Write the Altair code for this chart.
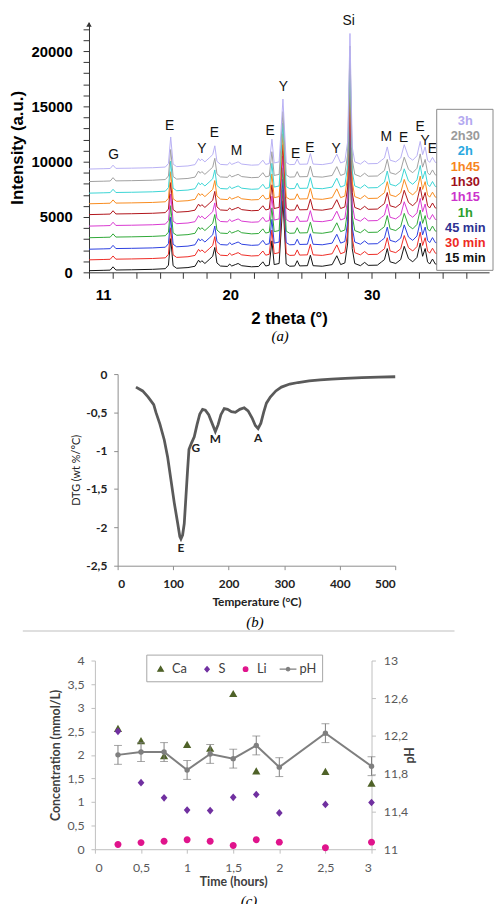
import altair as alt
import pandas as pd

# ---------------- (a) XRD patterns ----------------
xrd_series = ["15 min", "30 min", "45 min", "1h", "1h15", "1h30", "1h45", "2h", "2h30", "3h"]
xrd_baseline = [150, 1130, 2090, 3130, 4180, 5220, 6200, 7160, 8210, 9340]
xrd_line_colors = ["#111111", "#ee2a24", "#2b3ee0", "#2ea836", "#d838d0",
                   "#b01218", "#f88a1c", "#3ad4d4", "#a0a0a0", "#b8b0f4"]
xrd_label_colors = ["#111111", "#ee2a24", "#2e3192", "#2ca02c", "#cc33cc",
                    "#a0101c", "#f7861e", "#29a8e0", "#9a9a9a", "#b3a9f0"]
xrd_two_theta = [10.0, 11.0, 11.5, 11.7, 11.9, 13.0, 14.5, 15.4, 15.62, 15.78, 15.95, 16.2,
                 17.0, 17.5, 17.75, 17.87, 17.98, 18.2, 18.5, 18.75, 18.9, 19.05, 19.3,
                 19.8, 19.95, 20.1, 20.35, 20.55, 20.8, 21.5, 22.0, 22.3, 22.5, 22.75, 22.94,
                 23.1, 23.45, 23.72, 23.95, 24.2, 24.55, 24.73, 24.9, 25.45, 25.66, 25.85,
                 26.5, 27.2, 27.53, 27.8, 28.1, 28.3, 28.46, 28.62, 28.8, 29.2, 29.5, 29.75,
                 30.4, 30.7, 30.9, 31.1, 31.3, 31.7, 32.05, 32.3, 32.6, 32.9, 33.2, 33.43,
                 33.6, 33.78, 33.95, 34.1, 34.3, 34.5, 34.8]
xrd_intensity = [0, 30, 50, 350, 60, 80, 120, 180, 500, 2900, 450, 220,
                 280, 400, 950, 750, 900, 650, 1000, 1300, 2100, 700, 420,
                 380, 600, 420, 550, 650, 450, 350, 380, 800, 420, 500, 2700,
                 550, 650, 6330, 600, 400, 420, 900, 430, 450, 1400, 450,
                 400, 550, 1350, 550, 700, 2500, 12260, 2000, 650, 450, 750, 480,
                 500, 800, 1000, 2000, 800, 650, 1000, 2200, 1100, 800, 1200, 2500,
                 1300, 2000, 800, 600, 1050, 600, 550]
xrd_peak_labels = ["G", "E", "Y", "E", "M", "E", "Y", "E", "E", "Y", "Si", "M", "E", "E", "Y", "E"]
xrd_peak_pos = [11.75, 15.71, 17.99, 18.86, 20.44, 22.82, 23.75, 24.62, 25.62, 27.48,
                28.37, 31.03, 32.26, 33.43, 33.78, 34.29]
xrd_peak_y = [10590, 13220, 11130, 12630, 10960, 12810, 16720, 10660, 11250, 11130,
              22750, 12240, 12180, 13140, 11880, 11130]
xrd_x_ticks = [10, 11.67, 13.33, 15, 16.67, 18.33, 20, 21.67, 23.33, 25, 26.67, 28.33,
               30, 31.67, 33.33, 35, 36.67, 38.33]
xrd_x_labels = [11, 20, 30]
xrd_y_ticks = [0, 1000, 2000, 3000, 4000, 5000, 6000, 7000, 8000, 9000, 10000, 11000,
               12000, 13000, 14000, 15000, 16000, 17000, 18000, 19000, 20000, 21000, 22000]

# ---------------- (b) DTG ----------------
dtg_temp = [33, 45, 55, 65, 69, 76, 84, 90, 96, 102, 108, 112, 114, 117, 120, 123, 126, 128.5,
            133, 138, 143, 148, 153, 158, 164, 170, 176, 181, 186, 192, 198, 205, 212, 220,
            228, 235, 242, 248, 253, 258, 263, 268, 275, 285, 295, 310, 325, 345, 365, 385,
            410, 440, 470, 500]
dtg_value = [-0.17, -0.22, -0.30, -0.40, -0.50, -0.65, -0.86, -1.08, -1.38, -1.68, -1.94,
             -2.12, -2.15, -2.10, -1.95, -1.60, -1.25, -0.98, -0.90, -0.82, -0.66, -0.52,
             -0.46, -0.47, -0.53, -0.64, -0.75, -0.66, -0.53, -0.45, -0.46, -0.49, -0.50,
             -0.46, -0.44, -0.48, -0.57, -0.67, -0.71, -0.64, -0.50, -0.38, -0.30, -0.22,
             -0.17, -0.13, -0.11, -0.09, -0.075, -0.065, -0.055, -0.045, -0.04, -0.035]
dtg_labels = ["E", "G", "M", "A"]
dtg_label_temp = [114, 140.6, 176, 253]
dtg_label_value = [-2.27, -0.97, -0.85, -0.83]

# ---------------- (c) solution chemistry ----------------
time_h = [0.25, 0.5, 0.75, 1, 1.25, 1.5, 1.75, 2, 2.5, 3]
ca = [2.55, 2.29, 1.97, 2.21, 2.13, 3.29, 1.65, None, 1.64, 1.39]
s = [2.50, 1.41, 1.09, 0.83, 0.82, 1.10, 1.16, 0.77, 0.95, 0.99]
li = [0.10, 0.14, 0.17, 0.20, 0.17, 0.08, 0.20, 0.15, 0.03, 0.15]
ph = [12.00, 12.03, 12.03, 11.84, 12.01, 11.96, 12.10, 11.87, 12.23, 11.88]
ph_err = [0.1, 0.1, 0.1, 0.1, 0.1, 0.1, 0.1, 0.1, 0.1, 0.1]
species = ["Ca", "S", "Li", "pH"]
species_colors = ["#4f6228", "#7030a0", "#e0148c", "#7f7f7f"]
species_shapes = [
    "M0,-0.32L0.32,0.24L-0.32,0.24Z",
    "M0,-0.3L0.26,0L0,0.3L-0.26,0Z",
    "M0.27,0A0.27,0.27,0,1,1,-0.27,0A0.27,0.27,0,1,1,0.27,0Z",
    "M-1,0L1,0M0.2,0A0.2,0.2,0,1,1,-0.2,0A0.2,0.2,0,1,1,0.2,0Z",
]

SANS = "Liberation Sans"
SERIF = "Liberation Serif"
LATO = "Lato"
COMMA = "replace(toString(datum.value), '.', ',')"


def color_expr(keys, colors, field):
    parts = [f"{field} === '{k}' ? '{c}'" for k, c in zip(keys, colors)]
    return " : ".join(parts) + " : '#000000'"


# ---- build tables ----
xrd_rows = []
for name, base in zip(xrd_series, xrd_baseline):
    for i, (tt, inten) in enumerate(zip(xrd_two_theta, xrd_intensity)):
        xrd_rows.append({"series": name, "idx": i, "two_theta": tt, "intensity": base + inten})
xrd_df = pd.DataFrame(xrd_rows)
peaks_df = pd.DataFrame({"label": xrd_peak_labels, "pos": xrd_peak_pos, "intensity": xrd_peak_y})
legend_df = pd.DataFrame({"series": xrd_series})
dtg_df = pd.DataFrame({"idx": list(range(len(dtg_temp))), "temp": dtg_temp, "dtg": dtg_value})
dtg_lab_df = pd.DataFrame({"label": dtg_labels, "temp": dtg_label_temp, "dtg": dtg_label_value})

conc_rows = []
for name, vals in zip(["Ca", "S", "Li"], [ca, s, li]):
    for t, v in zip(time_h, vals):
        if v is not None:
            conc_rows.append({"species": name, "time": t, "value": v})
conc_df = pd.DataFrame(conc_rows)
ph_df = pd.DataFrame({"time": time_h, "ph": ph,
                      "lo": [p - e for p, e in zip(ph, ph_err)],
                      "hi": [p + e for p, e in zip(ph, ph_err)]})
one = pd.DataFrame({"k": [0]})

# ---------------- panel (a) ----------------
xa = alt.Scale(domain=[10, 38.3], nice=False, zero=False)
ya = alt.Scale(domain=[0, 22600], nice=False)
leg_dom = list(reversed(xrd_series))
ya_axis = alt.Axis(
    values=xrd_y_ticks, labelExpr="datum.value % 5000 === 0 ? toString(datum.value) : ''",
    tickSize=6, domainColor="#333", tickColor="#333", grid=False, labelFont=SANS,
    labelFontSize=15, labelFontWeight="bold", labelColor="black", labelPadding=11,
    title="Intensity (a.u.)", titleFont=SANS, titleFontSize=17, titleFontWeight="bold",
    titleColor="black", titlePadding=5)

a_lines = alt.Chart(xrd_df).mark_line(strokeWidth=1).encode(
    x=alt.X("two_theta:Q", scale=xa, axis=alt.Axis(
        orient="bottom", values=xrd_x_ticks, labels=False, title="2 theta (°)", tickSize=6,
        domainColor="#333", tickColor="#333", grid=False, titleFont=SANS,
        titleFontSize=17, titleFontWeight="bold", titleColor="black", titlePadding=32)),
    y=alt.Y("intensity:Q", scale=ya, axis=ya_axis),
    color=alt.Color("series:N", scale=alt.Scale(domain=xrd_series, range=xrd_line_colors),
                    legend=None),
    order=alt.Order("idx:Q"),
)
a_text = alt.Chart(peaks_df).mark_text(font=SANS, fontSize=14, color="#111").encode(
    x=alt.X("pos:Q", scale=xa, axis=alt.Axis(
        orient="bottom", values=xrd_x_labels, ticks=False, domain=False, grid=False,
        title=None, labelFont=SANS, labelFontSize=15, labelFontWeight="bold",
        labelColor="black", labelPadding=16)),
    y=alt.Y("intensity:Q", scale=ya, axis=ya_axis),
    text="label:N",
)
a_arrow = alt.Chart(one).mark_point(shape="triangle-up", filled=True, size=30,
                                    color="#333", opacity=1).encode(
    x=alt.value(0), y=alt.value(2))
a_plot = alt.layer(a_lines, a_text, a_arrow).resolve_axis(x="independent")

# legend box with coloured series names
a_leg_box = alt.Chart(one).mark_rect(fill="white", stroke="#888888", strokeWidth=1).encode(
    x=alt.value(352), x2=alt.value(409), y=alt.value(88), y2=alt.value(251))
a_leg_text = alt.Chart(legend_df).mark_text(font=SANS, fontSize=13, fontWeight="bold",
                                            align="center", baseline="middle").encode(
    x=alt.value(381),
    y=alt.Y("series:N", scale=alt.Scale(domain=leg_dom, range=[99.7, 239], padding=0),
            axis=None),
    color=alt.Color("series:N", scale=alt.Scale(domain=xrd_series, range=xrd_label_colors),
                    legend=None),
    text="series:N",
)
a_legend = alt.layer(a_leg_box, a_leg_text)

panel_a = alt.layer(a_plot, a_legend).resolve_scale(y="independent", color="independent").properties(
    width=405, height=253,
    title=alt.TitleParams("(a)", orient="bottom", font=SERIF, fontStyle="italic",
                          fontSize=15, fontWeight="normal", color="black",
                          frame="group", dx=-9, offset=3))

# ---------------- panel (b) ----------------
xb = alt.Scale(domain=[0, 500], range=[29, 310], nice=False)
yb = alt.Scale(domain=[-2.5, 0], range=[201, 7], nice=False)
b_axis_common = dict(domainColor="#8c8c8c", tickColor="#8c8c8c", tickSize=4, grid=False,
                     labelFont=LATO, labelFontSize=12, labelFontWeight="bold",
                     labelColor="#222")
b_line = alt.Chart(dtg_df).mark_line(color="#5a5a5a", strokeWidth=2.8).encode(
    x=alt.X("temp:Q", scale=xb, axis=alt.Axis(
        values=[0, 100, 200, 300, 400, 500], labelPadding=9, title="Temperature (°C)",
        titleFont=LATO, titleFontSize=12, titleFontWeight="bold", titleColor="#222",
        titlePadding=7, **b_axis_common)),
    y=alt.Y("dtg:Q", scale=yb, axis=alt.Axis(
        values=[-2.5, -2, -1.5, -1, -0.5, 0], labelExpr=COMMA, offset=-29, labelPadding=7,
        title="DTG (wt %/°C)", titleFont=LATO, titleFontSize=11, titleFontWeight="normal",
        titleColor="#222", titlePadding=4, **b_axis_common)),
    order=alt.Order("idx:Q"),
)
b_text = alt.Chart(dtg_lab_df).mark_text(font=LATO, fontSize=12, fontWeight="bold",
                                         color="#222").encode(
    x=alt.X("temp:Q", scale=xb), y=alt.Y("dtg:Q", scale=yb), text="label:N")
panel_b = alt.layer(b_line, b_text).properties(
    width=310, height=201,
    title=alt.TitleParams("(b)", orient="bottom", font=SERIF, fontStyle="italic",
                          fontSize=15, fontWeight="normal", color="black",
                          frame="group", dx=13, offset=8))

# ---------------- panel (c) ----------------
xc = alt.Scale(domain=[0, 3], range=[6, 286], nice=False)
yc = alt.Scale(domain=[0, 4], nice=False)
yph = alt.Scale(domain=[11, 13], nice=False)
c_axis_common = dict(domainColor="#bfbfbf", tickColor="#bfbfbf", tickSize=4, grid=False,
                     labelFont=LATO, labelFontSize=12.5, labelColor="#595959",
                     titleFont=LATO, titleFontSize=12.5, titleFontWeight="bold",
                     titleColor="#404040")
c_x = alt.X("time:Q", scale=xc, axis=alt.Axis(
    values=[0, 0.5, 1, 1.5, 2, 2.5, 3], labelExpr=COMMA, labelPadding=9,
    title="Time (hours)", titlePadding=1, **c_axis_common))
ph_axis = alt.Axis(
    orient="right", values=[11, 11.4, 11.8, 12.2, 12.6, 13], labelExpr=COMMA,
    labelPadding=8, title="pH", titleAngle=270, titlePadding=9, **c_axis_common)

c_points = alt.Chart(conc_df).mark_point(filled=True, opacity=1, size=676).encode(
    x=c_x,
    y=alt.Y("value:Q", scale=yc, axis=alt.Axis(
        values=[0, 0.5, 1, 1.5, 2, 2.5, 3, 3.5, 4], labelExpr=COMMA, offset=-6,
        labelPadding=7, title="Concentration (mmol/L)", titlePadding=5, **c_axis_common)),
    color=alt.Color("species:N", scale=alt.Scale(domain=species, range=species_colors),
                    legend=alt.Legend(
                        title=None, orient="none", legendX=58, legendY=-6,
                        direction="horizontal", columns=4, fillColor="white",
                        strokeColor="#a6a6a6", padding=5, symbolSize=289,
                        symbolStrokeWidth=1.3,
                        symbolStrokeColor={"expr": color_expr(species, species_colors, "datum.value")},
                        labelFont=LATO, labelFontSize=13, labelColor="#404040",
                        labelOffset=2, columnPadding=10)),
    shape=alt.Shape("species:N", scale=alt.Scale(domain=species, range=species_shapes),
                    legend=None),
)
c_err = alt.Chart(ph_df).mark_rule(color="#7f7f7f", strokeWidth=1).encode(
    x=c_x, y=alt.Y("lo:Q", scale=yph, axis=ph_axis), y2="hi:Q")
c_cap_lo = alt.Chart(ph_df).mark_tick(color="#7f7f7f", orient="horizontal", size=8,
                                      thickness=1).encode(
    x=c_x, y=alt.Y("lo:Q", scale=yph, axis=ph_axis))
c_cap_hi = alt.Chart(ph_df).mark_tick(color="#7f7f7f", orient="horizontal", size=8,
                                      thickness=1).encode(
    x=c_x, y=alt.Y("hi:Q", scale=yph, axis=ph_axis))
c_ph_line = alt.Chart(ph_df).mark_line(color="#7f7f7f", strokeWidth=2).encode(
    x=c_x, y=alt.Y("ph:Q", scale=yph, axis=ph_axis))
c_ph_pts = alt.Chart(ph_df).mark_point(filled=True, opacity=1, size=30, color="#7f7f7f").encode(
    x=c_x, y=alt.Y("ph:Q", scale=yph, axis=ph_axis))
c_sep = alt.Chart(one).mark_rule(color="#d4d4d4", strokeWidth=1.5).encode(
    x=alt.value(-67), x2=alt.value(370), y=alt.value(-30))

ph_group = alt.layer(c_err, c_cap_lo, c_cap_hi, c_ph_line, c_ph_pts)
panel_c = alt.layer(c_sep, c_points, ph_group).resolve_scale(y="independent").properties(
    width=286, height=191,
    title=alt.TitleParams("(c)", orient="bottom", font=SERIF, fontStyle="italic",
                          fontSize=15, fontWeight="normal", color="black",
                          frame="group", dx=19, offset=6))

chart = alt.vconcat(panel_a, panel_b, panel_c, spacing=96, bounds="flush").resolve_scale(
    color="independent", shape="independent").configure_view(stroke=None).properties(
    padding={"left": 0, "top": 0, "right": 0, "bottom": 0}, background="white")

chart.save("out.html", embed_options={"renderer": "svg", "actions": False})
